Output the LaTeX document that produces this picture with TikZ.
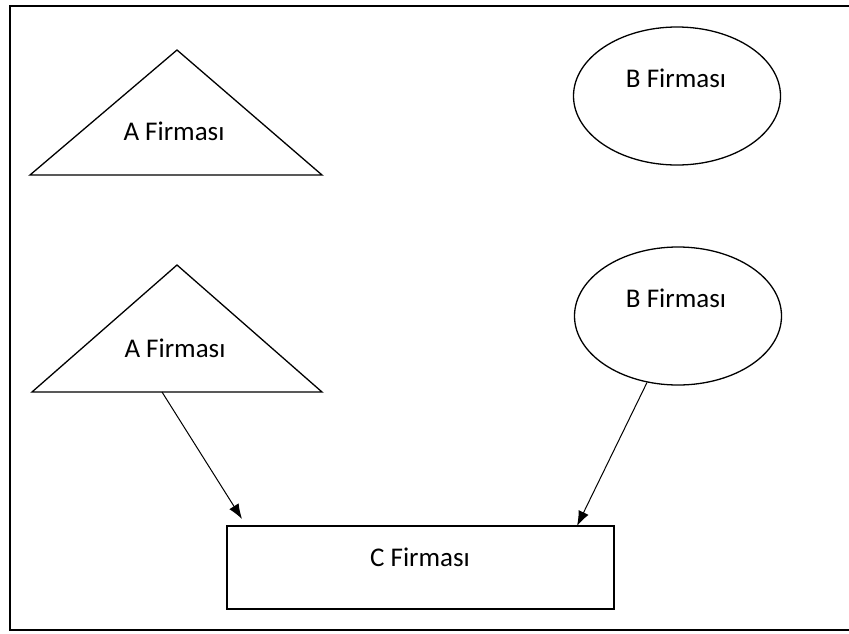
\documentclass[tikz,border=0pt]{standalone}
\usepackage{fontspec}
\setmainfont{Carlito}
\usetikzlibrary{arrows.meta,shapes.geometric,positioning}

\begin{document}
\begin{tikzpicture}[
        x=1pt,y=-1pt,
        line width=1.3pt,
        FirmaTxt/.style={font=\fontsize{27}{31}\selectfont,inner sep=0pt},
        FirmaEll/.style={ellipse,draw,minimum width=207pt,minimum height=138pt},
        FirmaArr/.style={line width=1pt,-{Latex[length=15pt,width=11pt]}}
    ]
    \useasboundingbox (0,0) rectangle (849,633);
    
    %frame
    \draw (849,6)--(10,6)--(10,630)--(849,630);
    
    %A Firmasi 1
    \draw (177,50)coordinate (A1top)--(322,175)coordinate (A1right)--(30,175)coordinate (A1left)--cycle;
    \node[FirmaTxt] (A1txt) at (174,131) {A Firması};
    
    %B Firmasi 1
    \node[FirmaEll] (B1) at (677,96) {};
    \node[FirmaTxt] (B1txt) at (676,78) {B Firması};
    
    %A Firmasi 2
    \draw (177,265)coordinate (A2top)--(322,392)coordinate (A2right)--(32,392)coordinate (A2left)--cycle;
    \node[FirmaTxt] (A2txt) at (175,348) {A Firması};
    \coordinate (A2out) at (162,392);
    
    %B Firmasi 2
    \node[FirmaEll] (B2) at (678,316) {};
    \node[FirmaTxt] (B2txt) at (676,298) {B Firması};
    
    %C Firmasi
    \node[draw,minimum width=387pt,minimum height=83pt] (C) at (420.5,567.5) {};
    \node[FirmaTxt] (Ctxt) at (420,557) {C Firması};
    \coordinate (Cin1) at (242,519);
    \coordinate (Cin2) at (577,526);
    
    %connections
    \draw[FirmaArr] (A2out)--(Cin1);
    \draw[FirmaArr] (B2.-115)--(Cin2);
    
\end{tikzpicture}
\end{document}
